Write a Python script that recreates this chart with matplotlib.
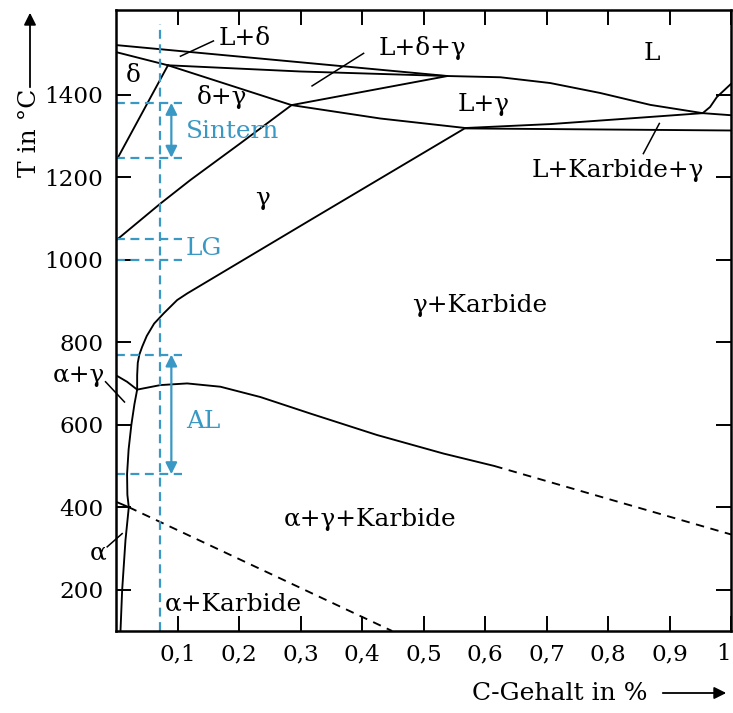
import matplotlib
matplotlib.use("Agg")
import matplotlib.pyplot as plt
from matplotlib.patches import FancyArrowPatch

plt.rcParams['font.family'] = ['DejaVu Serif']
plt.rcParams['mathtext.fontset'] = 'dejavuserif'

# ---------------- data (C content in %, temperature in °C) ----------------
liq_x = [0.0, 0.539, 0.625, 0.706, 0.787, 0.869, 0.954, 1.0]
liq_T = [1520, 1445, 1442, 1428, 1404, 1375, 1355, 1350]

dsol_x = [0.0, 0.0845]
dsol_T = [1503, 1471]

perit_x = [0.0845, 0.2997, 0.539]
perit_T = [1471, 1456, 1445]

pr_x = [0.0845, 0.2855]
pr_T = [1471, 1374.5]

rq_x = [0.2855, 0.539]
rq_T = [1374.5, 1445]

gsol_x = [0.2855, 0.43, 0.568]
gsol_T = [1374.5, 1342, 1319]

se_x = [0.568, 0.706, 0.82, 0.954]
se_T = [1319, 1328.5, 1340.6, 1355]

eup_x = [0.954, 0.966, 0.977, 1.0]
eup_T = [1355, 1370, 1394, 1426]

shor_x = [0.568, 1.0]
shor_T = [1318, 1313]

delta_x = [0.003, 0.0845]
delta_T = [1247, 1471]

gup_x = [0.002, 0.0723, 0.121, 0.2023, 0.2855]
gup_T = [1049, 1136, 1193, 1282, 1374.5]

acm_x = [0.568, 0.316, 0.1157, 0.0994, 0.0777, 0.062, 0.050, 0.0426, 0.038, 0.0354, 0.0344, 0.0344]
acm_T = [1319, 1096, 918, 902, 870, 845, 815, 789, 770, 750, 720, 685]

alpha_x = [0.0344, 0.030, 0.025, 0.0205, 0.018, 0.0185, 0.0208, 0.0154, 0.0100, 0.0073]
alpha_T = [685, 650, 600, 540, 480, 430, 400, 320, 199, 100]

a3_x = [0.002, 0.018, 0.0344]
a3_T = [718, 704, 685]

eut_x = [0.0344, 0.0723, 0.1157, 0.1698, 0.2348, 0.316, 0.4244, 0.5326, 0.615]
eut_T = [685, 696, 700, 692, 667, 627, 575, 530, 500]

eutd_x = [0.615, 1.0]
eutd_T = [500, 334]

a1_x = [0.002, 0.0208]
a1_T = [412, 400]

a1d_x = [0.0208, 0.449]
a1d_T = [400, 100]

sample_C = 0.072
sinter_T = [1380, 1247]
lg_T = [1050, 1000]
al_T = [770, 480]

xticks = [0.1, 0.2, 0.3, 0.4, 0.5, 0.6, 0.7, 0.8, 0.9, 1.0]
xticklabels = ['0,1', '0,2', '0,3', '0,4', '0,5', '0,6', '0,7', '0,8', '0,9', '1']
yticks = [200, 400, 600, 800, 1000, 1200, 1400]

# ---------------- figure ----------------
W, H = 733, 713
fig = plt.figure(figsize=(W / 100, H / 100), dpi=100)
ax = fig.add_axes([116 / W, 1 - 631 / H, (731 - 116) / W, (631 - 10) / H])
ax.set_xlim(0, 1.0)
ax.set_ylim(100, 1605)

lw = 1.35
k = 'black'
for xs, ts in [(liq_x, liq_T), (dsol_x, dsol_T), (perit_x, perit_T), (pr_x, pr_T),
               (rq_x, rq_T), (gsol_x, gsol_T), (se_x, se_T), (eup_x, eup_T),
               (shor_x, shor_T), (delta_x, delta_T), (gup_x, gup_T), (acm_x, acm_T),
               (alpha_x, alpha_T), (a3_x, a3_T), (eut_x, eut_T), (a1_x, a1_T)]:
    ax.plot(xs, ts, color=k, lw=lw, solid_capstyle='round', solid_joinstyle='round')
for xs, ts in [(eutd_x, eutd_T), (a1d_x, a1d_T)]:
    ax.plot(xs, ts, color=k, lw=lw, ls=(0, (4.5, 3.5)))

blue = '#3a98c4'
bls = (0, (4, 2.5))
ax.plot([sample_C, sample_C], [100, 1570], color=blue, lw=1.6, ls=bls)
for t in sinter_T + lg_T + al_T:
    ax.plot([0, 0.1075], [t, t], color=blue, lw=1.6, ls=bls)
for lo, hi in [(sinter_T[1], sinter_T[0]), (al_T[1], al_T[0])]:
    ax.annotate('', xy=(0.09, hi), xytext=(0.09, lo),
                arrowprops=dict(arrowstyle='<|-|>', color=blue, lw=1.6,
                                mutation_scale=17, shrinkA=0, shrinkB=0))

fs = 17.8
ax.text(0.114, 1311, 'Sintern', color=blue, fontsize=fs, va='center', ha='left')
ax.text(0.114, 1028, 'LG', color=blue, fontsize=fs, va='center', ha='left')
ax.text(0.114, 608, 'AL', color=blue, fontsize=fs, va='center', ha='left')

labels = [
    (0.0285, 1447, 'δ'), (0.173, 1394, 'δ+γ'), (0.238, 1149, 'γ'), (0.872, 1500, 'L'),
    (0.597, 1377, 'L+γ'), (0.592, 890, 'γ+Karbide'), (0.4135, 371, 'α+γ+Karbide'),
    (0.191, 166, 'α+Karbide'), (0.21, 1537, 'L+δ'), (0.498, 1513, 'L+δ+γ'),
    (0.816, 1217, 'L+Karbide+γ'), (-0.06, 720, 'α+γ'), (-0.029, 289, 'α'),
]
for x, t, s in labels:
    ax.text(x, t, s, fontsize=fs, ha='center', va='center', clip_on=False)

leaders = [
    ([0.1048, 0.1584], [1493, 1530]),
    ([0.3188, 0.4026], [1421, 1500]),
    ([0.8835, 0.8575], [1330, 1257]),
    ([-0.017, 0.0138], [704, 655]),
    ([-0.0143, 0.010], [304, 336]),
]
for xs, ts in leaders:
    ax.plot(xs, ts, color=k, lw=1.1, clip_on=False)

ax.set_xticks(xticks)
ax.set_xticklabels(xticklabels)
ax.set_yticks(yticks)
ax.tick_params(direction='in', length=11, width=1.4, top=True, right=True,
               labelsize=16.7, pad=9)
ax.get_xticklabels()[-1].set_horizontalalignment('right')
for sp in ax.spines.values():
    sp.set_linewidth(1.8)

# axis titles with arrows
fig.text(30 / W, 1 - 133 / H, 'T in °C', rotation=90, fontsize=18, ha='center', va='center')
fig.add_artist(FancyArrowPatch((30 / W, 1 - 90 / H), (30 / W, 1 - 10 / H),
                               transform=fig.transFigure, arrowstyle='-|>',
                               mutation_scale=18, color='black', lw=1.3))
fig.text(560 / W, 1 - 693 / H, 'C-Gehalt in %', fontsize=18, ha='center', va='center')
fig.add_artist(FancyArrowPatch((660 / W, 1 - 693 / H), (729 / W, 1 - 693 / H),
                               transform=fig.transFigure, arrowstyle='-|>',
                               mutation_scale=18, color='black', lw=1.3))

fig.savefig('out.png', dpi=100)
